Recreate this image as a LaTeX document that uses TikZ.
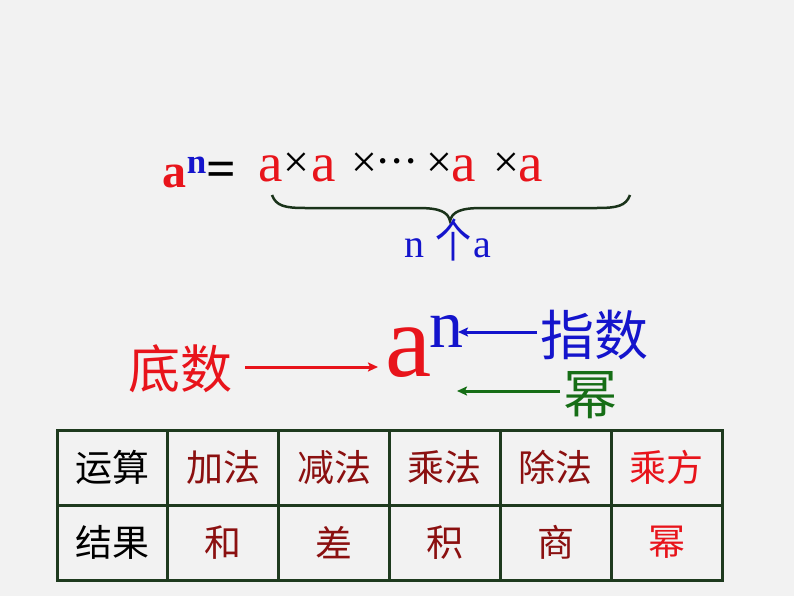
\documentclass[tikz,border=0pt]{standalone}
\usepackage{fontspec}
\usepackage{graphicx}
\setmainfont{Liberation Serif}
\newfontfamily\cjk{Noto Sans CJK SC}
\usetikzlibrary{arrows.meta}
\definecolor{bg}{HTML}{F2F2F2}
\definecolor{myred}{HTML}{E8141B}
\definecolor{myblue}{HTML}{1414CC}
\definecolor{mygreen}{HTML}{166E16}
\definecolor{mymaroon}{HTML}{8B1010}
\definecolor{tline}{HTML}{1E3A1E}
\definecolor{bracecol}{HTML}{1A331A}
\newcommand\fsz[1]{\fontsize{#1}{#1}\selectfont}
\begin{document}
\begin{tikzpicture}[x=1pt,y=-1pt,
  every node/.style={inner sep=0pt, outer sep=0pt},
  arr/.style={line width=3pt, -{Stealth[length=10pt,width=9pt,inset=2pt]}},
  redA/.style={anchor=base, text=myred, font=\fsz{55}},
  timesop/.style={anchor=base, font=\fsz{46}},
  cell/.style={draw=tline, line width=3pt, minimum width=110.83pt, minimum height=75pt, font=\cjk\fsz{37}, anchor=center},
  opcell/.style={cell, text=mymaroon},
  hicell/.style={cell, text=myred}]
\fill[bg] (0,0) rectangle (794,596);
\useasboundingbox (0,0) rectangle (794,596);

% a^n = a x a x ... x a x a
\node[anchor=base, text=myred, font=\fsz{48}\bfseries] (ta) at (174,187) {a};
\node[anchor=base, text=myblue, font=\fsz{35}\bfseries] (tn) at (196.5,173) {n};
\node[anchor=base, font=\fsz{52}\bfseries] (teq) at (221.5,186) {=};
\node[redA] (a1) at (271,182) {a};
\node[timesop] (x1) at (296.5,178) {×};
\node[redA] (a2) at (324,182) {a};
\node[timesop] (x2) at (364,178) {×};
\node[anchor=base, font=\fsz{46}] (dots) at (397,176) {·\kern-1.5pt·\kern-1.5pt·};
\node[timesop] (x3) at (439,178) {×};
\node[redA] (a3) at (464,182) {a};
\node[timesop] (x4) at (506,178) {×};
\node[redA] (a4) at (531,182) {a};

% brace
\draw[bracecol, line width=2.5pt]
  (272,195) .. controls (276,206) and (285,208) .. (305,208)
  -- (418,208) .. controls (440,208) and (448,212) .. (450,221)
  .. controls (452,212) and (460,208) .. (482,208)
  -- (597,208) .. controls (617,208) and (626,206) .. (630,195);

\node[anchor=base, text=myblue, font=\fsz{40}] (bn) at (414,257) {n};
\node[text=myblue, font=\cjk\fsz{36}] (bge) at (453,240) {\scalebox{1}[1.28]{个}};
\node[anchor=base, text=myblue, font=\fsz{40}] (ba) at (482,257) {a};

% middle
\node[anchor=base, text=myred, font=\fsz{104}] (bigA) at (408.5,376) {a};
\node[anchor=base, text=myblue, font=\fsz{68}] (bigN) at (446,347) {n};
\node[text=myred, font=\cjk\fsz{52}] (dishu) at (180,369) {底数};
\node[text=myblue, font=\cjk\fsz{54}] (zhishu) at (594,335) {指数};
\node[text=mygreen, font=\cjk\fsz{54}] (mi) at (590,395) {幂};

\coordinate (atip) at (378,367);
\coordinate (ntip) at (458,332);
\coordinate (mtip) at (457,391);
\draw[arr, myred] ([xshift=13pt,yshift=2pt]dishu.east) -- (atip);
\draw[arr, myblue] ([xshift=-3pt,yshift=3pt]zhishu.west) -- (ntip);
\draw[arr, mygreen] ([xshift=-3pt,yshift=4pt]mi.west) -- (mtip);

% table
\node[cell] (c11) at (112.42,467.5) {运算};
\node[opcell] (c12) at (223.25,467.5) {加法};
\node[opcell] (c13) at (334.08,467.5) {减法};
\node[opcell] (c14) at (444.92,467.5) {乘法};
\node[opcell] (c15) at (555.75,467.5) {除法};
\node[hicell] (c16) at (666.58,467.5) {乘方};
\node[cell] (c21) at (112.42,542.5) {结果};
\node[opcell] (c22) at (223.25,542.5) {和};
\node[opcell] (c23) at (334.08,542.5) {差};
\node[opcell] (c24) at (444.92,542.5) {积};
\node[opcell] (c25) at (555.75,542.5) {商};
\node[hicell] (c26) at (666.58,542.5) {幂};
\end{tikzpicture}
\end{document}
